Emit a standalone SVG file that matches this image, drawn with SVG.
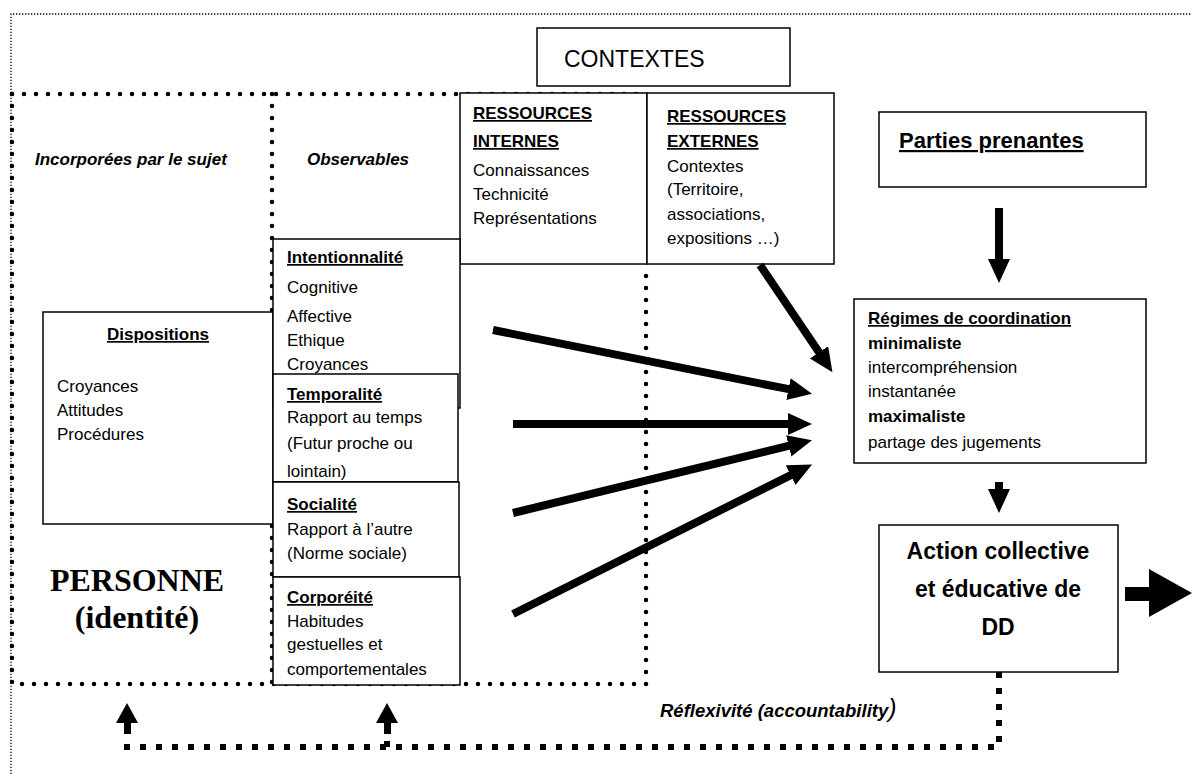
<svg xmlns="http://www.w3.org/2000/svg" width="1192" height="774" viewBox="0 0 1192 774">
<defs>
<style>
.t{font-family:"Liberation Sans",Arial,sans-serif;font-size:17px;fill:#000}
.b{font-weight:bold}
.u{text-decoration:underline}
.i{font-style:italic}
.big{font-size:23px}
.pp{font-size:22px}
.box{fill:#fff;stroke:#000;stroke-width:1.5}
.hd{fill:none;stroke:#000;stroke-width:4.5;stroke-linecap:round;stroke-dasharray:0 12}
.thin{fill:none;stroke:#000;stroke-width:1.3;stroke-dasharray:1.3 1.7}
.arr{fill:none;stroke:#000;stroke-width:8;marker-end:url(#ah)}
.fb{fill:none;stroke:#000;stroke-width:6;stroke-dasharray:6 10}
.serif{font-family:"Liberation Serif","Times New Roman",serif;font-weight:bold;font-size:32px;fill:#000}
</style>
<marker id="ah" markerUnits="userSpaceOnUse" markerWidth="30" markerHeight="26" refX="3" refY="11" orient="auto"><path d="M0,0 L24,11 L0,22 z" fill="#000"/></marker>
<clipPath id="clipTemp"><rect x="273" y="374" width="186" height="107"/></clipPath>
</defs>
<rect x="0" y="0" width="1192" height="774" fill="#fff"/>

<g id="frames">
<path class="thin" d="M11,774 V14 H1192"/>
<path class="hd" d="M12,94 H646"/>
<path class="hd" d="M12,94 V684 H646 V264"/>
<path class="hd" d="M272,94 V684"/>
</g>

<g id="contextes">
<rect class="box" x="537" y="28" width="253" height="58"/>
<text class="t big" x="564" y="67">CONTEXTES</text>
</g>

<g id="labels-personne">
<text class="t b i" x="35" y="165">Incorporées par le sujet</text>
<text class="t b i" x="307" y="165">Observables</text>
<text class="serif" x="137" y="591" text-anchor="middle">PERSONNE</text>
<text class="serif" x="137" y="628" text-anchor="middle">(identité)</text>
</g>

<g id="ressources-internes">
<rect class="box" x="460" y="93" width="187" height="171"/>
<text class="t b u" x="473" y="119">RESSOURCES</text>
<text class="t b u" x="473" y="147">INTERNES</text>
<text class="t" x="473" y="176">Connaissances</text>
<text class="t" x="473" y="200">Technicité</text>
<text class="t" x="473" y="224">Représentations</text>
</g>

<g id="ressources-externes">
<rect class="box" x="647" y="93" width="187" height="171"/>
<text class="t b u" x="667" y="122">RESSOURCES</text>
<text class="t b u" x="667" y="147">EXTERNES</text>
<text class="t" x="667" y="172">Contextes</text>
<text class="t" x="667" y="195">(Territoire,</text>
<text class="t" x="667" y="220">associations,</text>
<text class="t" x="667" y="244">expositions …)</text>
</g>

<g id="dispositions">
<rect class="box" x="43" y="312" width="230" height="212"/>
<text class="t b u" x="158" y="340" text-anchor="middle">Dispositions</text>
<text class="t" x="57" y="392">Croyances</text>
<text class="t" x="57" y="416">Attitudes</text>
<text class="t" x="57" y="440">Procédures</text>
</g>

<g id="intentionnalite">
<rect class="box" x="273" y="239" width="187" height="169"/>
<text class="t b u" x="287" y="263">Intentionnalité</text>
<text class="t" x="287" y="293">Cognitive</text>
<text class="t" x="287" y="322">Affective</text>
<text class="t" x="287" y="346">Ethique</text>
<text class="t" x="287" y="370">Croyances</text>
</g>

<g id="temporalite">
<rect class="box" x="273" y="374" width="185" height="108" stroke-width="2"/>
<text class="t b u" x="287" y="400">Temporalité</text>
<text class="t" x="287" y="423">Rapport au temps</text>
<text class="t" x="287" y="449">(Futur proche ou</text>
<text class="t" x="287" y="477" clip-path="url(#clipTemp)">lointain)</text>
<line x1="273" y1="482" x2="458" y2="482" stroke="#000" stroke-width="2"/>
</g>

<g id="socialite">
<rect class="box" x="273" y="482" width="186" height="95"/>
<text class="t b u" x="287" y="510">Socialité</text>
<text class="t" x="287" y="535">Rapport à l’autre</text>
<text class="t" x="287" y="559">(Norme sociale)</text>
</g>

<g id="corporeite">
<rect class="box" x="273" y="577" width="187" height="108"/>
<text class="t b u" x="287" y="603">Corporéité</text>
<text class="t" x="287" y="627">Habitudes</text>
<text class="t" x="287" y="650">gestuelles et</text>
<text class="t" x="287" y="675">comportementales</text>
</g>

<g id="parties-prenantes">
<rect class="box" x="879" y="112" width="267" height="75"/>
<text class="t b u pp" x="899" y="148">Parties prenantes</text>
</g>

<g id="regimes">
<rect class="box" x="854" y="299" width="292" height="164"/>
<text class="t b u" x="868" y="324">Régimes de coordination</text>
<text class="t b" x="868" y="349">minimaliste</text>
<text class="t" x="868" y="373">intercompréhension</text>
<text class="t" x="868" y="397">instantanée</text>
<text class="t b" x="868" y="422">maximaliste</text>
<text class="t" x="868" y="448">partage des jugements</text>
</g>

<g id="action">
<rect class="box" x="879" y="525" width="239" height="147"/>
<text class="t b big" x="998" y="559" text-anchor="middle">Action collective</text>
<text class="t b big" x="998" y="597" text-anchor="middle">et éducative de</text>
<text class="t b big" x="998" y="635" text-anchor="middle">DD</text>
</g>

<g id="reflexivite">
<text class="t b i" x="660" y="717" style="font-size:18.5px">Réflexivité (accountability<tspan style="font-size:25px;font-weight:normal">)</tspan></text>
</g>

<g id="connectors">
<line class="arr" x1="493" y1="330" x2="791.4" y2="389.7"/>
<line class="arr" x1="513" y1="424" x2="791" y2="424"/>
<line class="arr" x1="513" y1="513" x2="791.6" y2="445.2"/>
<line class="arr" x1="513" y1="614" x2="793.3" y2="473.8"/>
<line class="arr" x1="760" y1="265" x2="820.7" y2="354.8"/>
<line class="arr" x1="999" y1="208" x2="999" y2="262"/>
<line class="arr" x1="999" y1="482" x2="999" y2="492"/>
<path d="M1125,587 H1149 V569 L1192,593 L1149,617 V601 H1125 Z" fill="#000"/>
<path class="fb" d="M999,672 V747 H127 V735"/>
<path class="fb" d="M387,747 V735"/>
<rect x="124" y="720" width="7" height="14" fill="#000"/>
<path d="M127,703 L138,723 L116,723 Z" fill="#000"/>
<rect x="384" y="720" width="7" height="14" fill="#000"/>
<path d="M387,703 L398,723 L376,723 Z" fill="#000"/>
</g>
</svg>
